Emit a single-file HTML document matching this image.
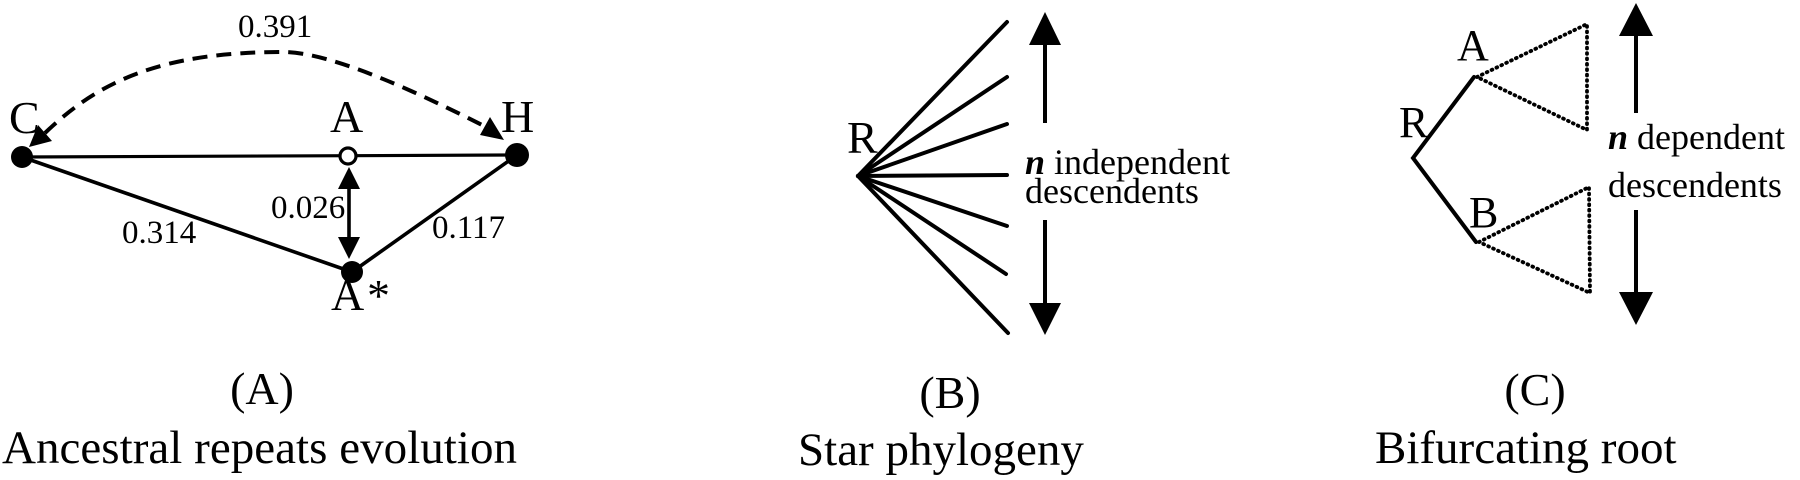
<!DOCTYPE html>
<html>
<head>
<meta charset="utf-8">
<style>
  html, body { margin: 0; padding: 0; background: #fff; }
  body { width: 1800px; height: 480px; overflow: hidden; }
  svg { display: block; }
  text { font-family: "Liberation Serif", "Times New Roman", serif; fill: #000; }
</style>
</head>
<body>
<svg width="1800" height="480" viewBox="0 0 1800 480" xmlns="http://www.w3.org/2000/svg">
  <!-- ============ Panel A ============ -->
  <g stroke="#000" fill="none" stroke-linecap="round">
    <!-- solid edges -->
    <line x1="22" y1="157" x2="517" y2="155" stroke-width="3.2"/>
    <line x1="22" y1="157" x2="352" y2="272" stroke-width="3.6"/>
    <line x1="352" y1="272" x2="517" y2="155" stroke-width="3.6"/>
    <!-- dashed arc -->
    <path d="M45,133 C100,80 163,52 283,52 C333,52 425,96 488,128" stroke-width="4" stroke-dasharray="15 9" stroke-linecap="butt"/>
    <!-- vertical double arrow shaft -->
    <line x1="349" y1="186" x2="349" y2="240" stroke-width="3.6"/>
  </g>
  <!-- arrowheads -->
  <polygon points="29,147 38,125 52,141" fill="#000"/>
  <polygon points="504,140 480,135 490,117" fill="#000"/>
  <polygon points="349,167 338,189 360,189" fill="#000"/>
  <polygon points="349,259 338,237 360,237" fill="#000"/>
  <!-- nodes -->
  <circle cx="22" cy="157" r="11" fill="#000"/>
  <circle cx="517" cy="155" r="12" fill="#000"/>
  <circle cx="352" cy="272" r="11" fill="#000"/>
  <circle cx="348" cy="156" r="8" fill="#fff" stroke="#000" stroke-width="3.2"/>
  <!-- labels -->
  <text x="9" y="133" font-size="46">C</text>
  <text x="330" y="132" font-size="46">A</text>
  <text x="501" y="132" font-size="46">H</text>
  <text x="331" y="310" font-size="46">A</text>
  <text x="367" y="311" font-size="46">*</text>
  <text x="238" y="37" font-size="33">0.391</text>
  <text x="122" y="243" font-size="33">0.314</text>
  <text x="271" y="218" font-size="33">0.026</text>
  <text x="432" y="238" font-size="33">0.117</text>

  <!-- ============ Panel B ============ -->
  <g stroke="#000" stroke-width="4" stroke-linecap="round" fill="none">
    <line x1="858" y1="176" x2="1007" y2="22"/>
    <line x1="858" y1="176" x2="1007" y2="77"/>
    <line x1="858" y1="176" x2="1007" y2="124"/>
    <line x1="858" y1="176" x2="1007" y2="175"/>
    <line x1="858" y1="176" x2="1007" y2="226"/>
    <line x1="858" y1="176" x2="1006" y2="274"/>
    <line x1="858" y1="176" x2="1008" y2="333"/>
    <line x1="1045" y1="44" x2="1045" y2="123" stroke-linecap="butt"/>
    <line x1="1045" y1="220" x2="1045" y2="304" stroke-linecap="butt"/>
  </g>
  <polygon points="1045,12 1029,45 1061,45" fill="#000"/>
  <polygon points="1045,335 1029,303 1061,303" fill="#000"/>
  <text x="847" y="153" font-size="46">R</text>
  <text x="1025" y="174" font-size="36"><tspan font-style="italic" font-weight="bold">n</tspan> independent</text>
  <text x="1025" y="203" font-size="36">descendents</text>

  <!-- ============ Panel C ============ -->
  <g stroke="#000" stroke-width="4" stroke-linecap="round" fill="none">
    <polyline points="1474,77 1413,158 1476,242"/>
  </g>
  <g stroke="#000" stroke-width="3.8" stroke-linecap="round" fill="none" stroke-dasharray="0.8 4.6">
    <polygon points="1477,77 1587,24 1587,130"/>
    <polygon points="1479,242 1589,187 1590,293"/>
  </g>
  <g stroke="#000" stroke-width="4" fill="none">
    <line x1="1636" y1="34" x2="1636" y2="113"/>
    <line x1="1636" y1="210" x2="1636" y2="294"/>
  </g>
  <polygon points="1636,3 1619,36 1653,36" fill="#000"/>
  <polygon points="1636,325 1619,292 1653,292" fill="#000"/>
  <text x="1399" y="137" font-size="44">R</text>
  <text x="1457" y="60" font-size="44">A</text>
  <text x="1469" y="227" font-size="44">B</text>
  <text x="1608" y="149" font-size="36"><tspan font-style="italic" font-weight="bold">n</tspan> dependent</text>
  <text x="1608" y="197" font-size="36">descendents</text>

  <!-- ============ Captions ============ -->
  <text x="262" y="404" font-size="46" text-anchor="middle">(A)</text>
  <text x="2" y="463" font-size="47" textLength="515" lengthAdjust="spacing">Ancestral repeats evolution</text>
  <text x="950" y="408" font-size="46" text-anchor="middle">(B)</text>
  <text x="798" y="465" font-size="47">Star phylogeny</text>
  <text x="1535" y="405" font-size="46" text-anchor="middle">(C)</text>
  <text x="1375" y="463" font-size="47">Bifurcating root</text>
</svg>
</body>
</html>
